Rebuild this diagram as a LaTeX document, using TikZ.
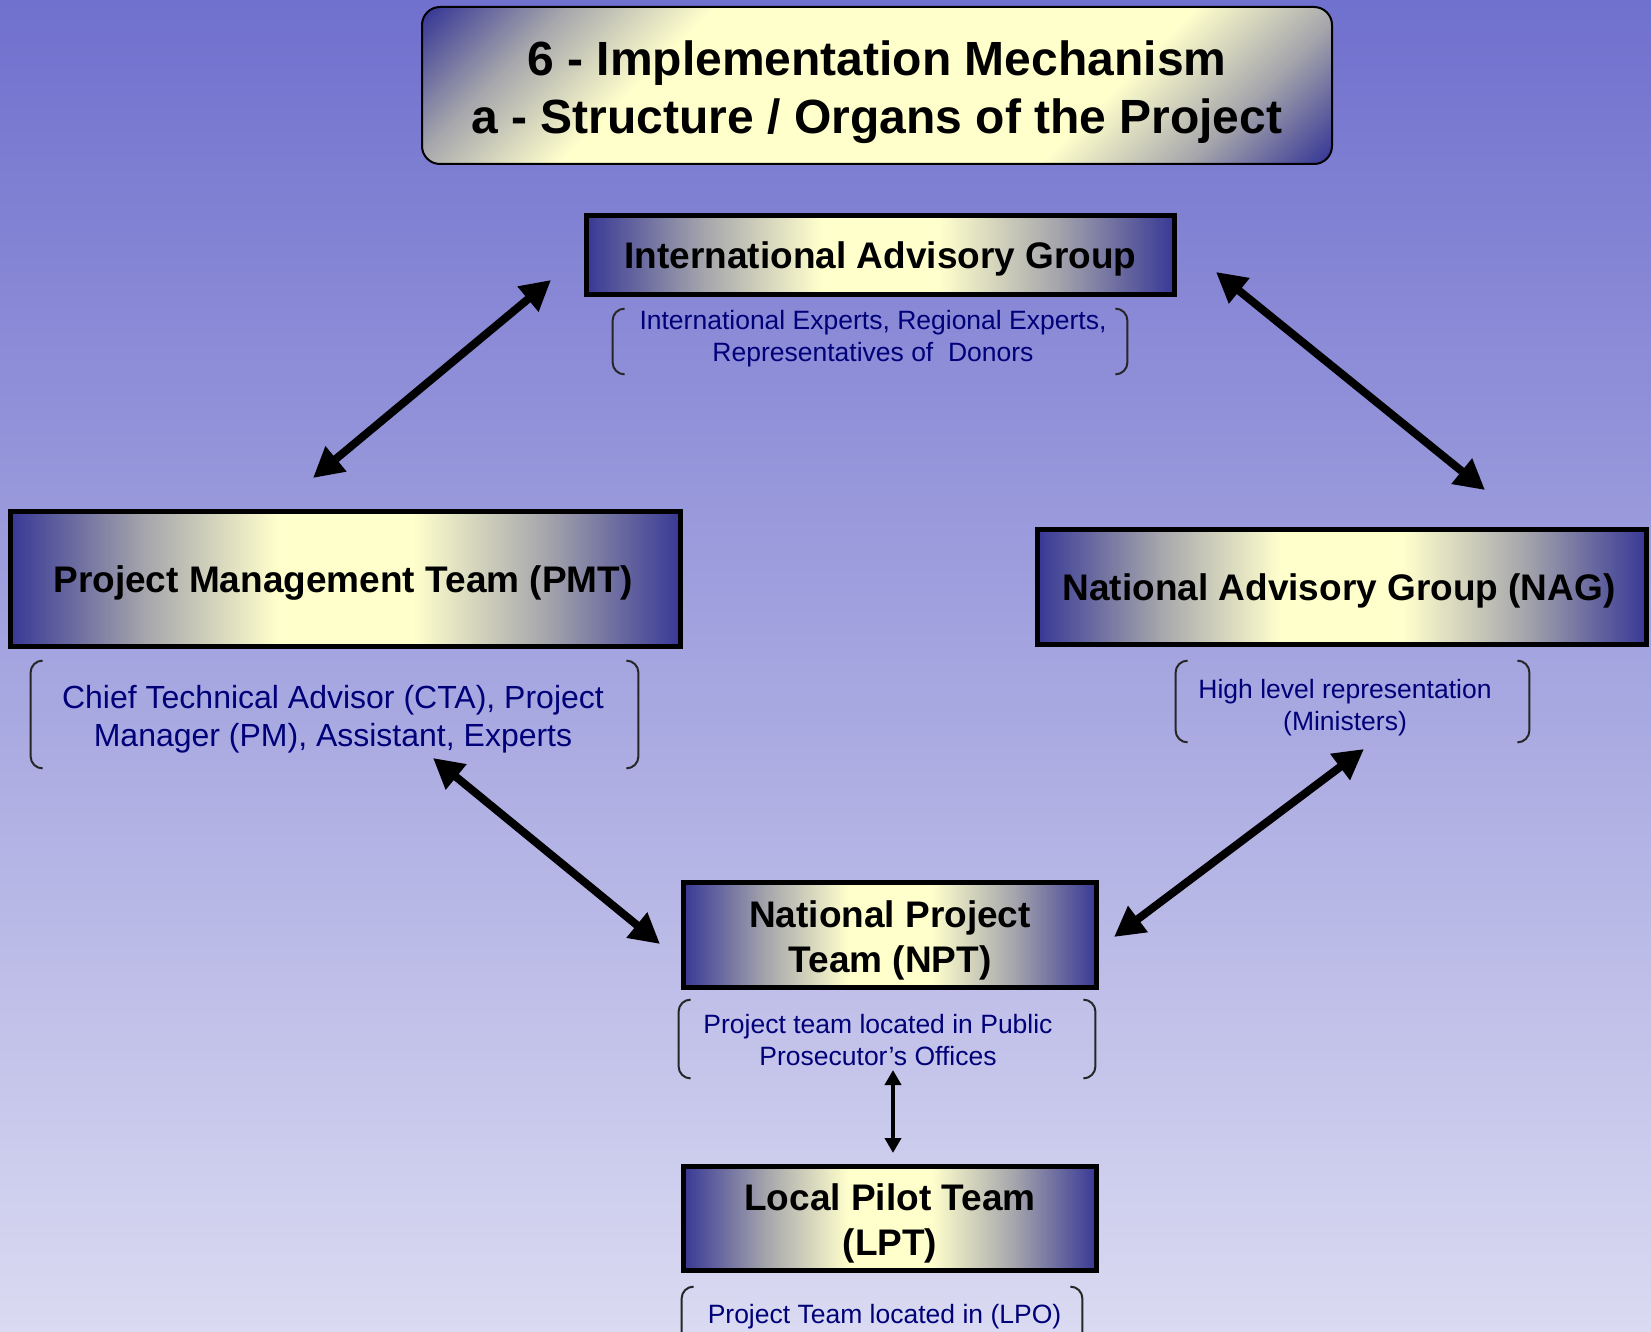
\documentclass[tikz,border=0pt]{standalone}
\usepackage{fontspec}
\setmainfont{Liberation Sans}
\usetikzlibrary{arrows.meta}
\definecolor{bgtop}{RGB}{112,112,206}
\definecolor{bgbot}{RGB}{218,218,242}
\definecolor{bdark}{RGB}{56,56,150}
\definecolor{bmid}{RGB}{165,165,172}
\definecolor{byel}{RGB}{255,255,204}
\definecolor{navytext}{RGB}{0,0,120}
\pgfdeclarehorizontalshading{boxshade}{100bp}{color(0bp)=(bdark); color(25bp)=(bdark); color(35bp)=(bmid); color(45bp)=(byel); color(55bp)=(byel); color(65bp)=(bmid); color(75bp)=(bdark); color(100bp)=(bdark)}
\pgfdeclarehorizontalshading{titleshade}{100bp}{color(0bp)=(bdark); color(15bp)=(bdark); color(24bp)=(bmid); color(34bp)=(byel); color(66bp)=(byel); color(76bp)=(bmid); color(85bp)=(bdark); color(100bp)=(bdark)}
\tikzset{
 orgbox/.style={shade, shading=boxshade, draw=black, line width=2.5pt, inner sep=0pt},
 boxtext/.style={inner sep=0pt, align=center, font=\bfseries\fontsize{18.5}{22.5}\selectfont, text=black},
 titlebox/.style={shade, shading=titleshade, shading angle=-45, draw=black, line width=1pt, rounded corners=9pt, inner sep=0pt},
 titletext/.style={inner sep=0pt, align=center, font=\bfseries\fontsize{24}{29}\selectfont, text=black},
 subtext/.style={text=navytext, align=center, font=\fontsize{13.25}{16}\selectfont, inner sep=0pt},
 bigsub/.style={text=navytext, align=center, font=\fontsize{16}{19}\selectfont, inner sep=0pt},
 brkframe/.style={inner sep=0pt, draw=none},
 brk/.style={draw=black!85, line width=1pt, rounded corners=6pt},
 bigarrow/.style={line width=4pt, {Triangle[length=15pt,width=15.5pt]}-{Triangle[length=15pt,width=15.5pt]}},
 smallarrow/.style={line width=2pt, {Triangle[length=7.5pt,width=8pt]}-{Triangle[length=7.5pt,width=8pt]}},
}
\newcommand\orgbrackets[1]{%
 \draw[brk] ([xshift=6pt]#1.north west) -- (#1.north west) -- (#1.south west) -- ([xshift=6pt]#1.south west);
 \draw[brk] ([xshift=-6pt]#1.north east) -- (#1.north east) -- (#1.south east) -- ([xshift=-6pt]#1.south east);}
\begin{document}
\begin{tikzpicture}[x=0.5pt,y=-0.5pt]
\useasboundingbox (0,0) rectangle (1651,1332);
\clip (0,0) rectangle (1651,1332);
\shade[top color=bgtop, bottom color=bgbot] (0,0) rectangle (1651,1332);

\node[titlebox, minimum width=455pt, minimum height=78.5pt] (title) at (877,85.5) {};
\node[titletext] (titlet) at (877,92) {6 - Implementation Mechanism\\a - Structure / Organs of the Project};

\node[orgbox, minimum width=294pt, minimum height=39.5pt] (iag) at (880.5,255) {};
\node[boxtext] (iagl) at (880.5,259) {International Advisory Group};
\node[brkframe, minimum width=257pt, minimum height=32.5pt] (iagf) at (870,341.5) {};
\node[subtext] (iagt) at (873,339) {International Experts, Regional Experts,\\Representatives of~ Donors};
\orgbrackets{iagf}

\node[orgbox, minimum width=335pt, minimum height=67.5pt] (pmt) at (345.5,579) {};
\node[boxtext] (pmtl) at (343,583) {Project Management Team (PMT)};
\node[brkframe, minimum width=303.5pt, minimum height=53.5pt] (pmtf) at (334.5,714.5) {};
\node[bigsub] (pmtt) at (333,719) {Chief Technical Advisor (CTA), Project\\Manager (PM), Assistant, Experts};
\orgbrackets{pmtf}

\node[orgbox, minimum width=304.5pt, minimum height=57.5pt] (nag) at (1342,587) {};
\node[boxtext] (nagl) at (1339,591) {National Advisory Group (NAG)};
\node[brkframe, minimum width=176.5pt, minimum height=40.5pt] (nagf) at (1352.5,701.5) {};
\node[subtext] (nagt) at (1345,707.5) {High level representation\\(Ministers)};
\orgbrackets{nagf}

\node[orgbox, minimum width=206.5pt, minimum height=52.5pt] (npt) at (890,935) {};
\node[boxtext] (nptl) at (890,940) {National Project\\Team (NPT)};
\node[brkframe, minimum width=208pt, minimum height=39pt] (nptf) at (887,1039) {};
\node[subtext] (nptt) at (878,1040) {Project team located in Public\\Prosecutor’s Offices};
\orgbrackets{nptf}

\node[orgbox, minimum width=206.5pt, minimum height=52pt] (lpt) at (890,1218.5) {};
\node[boxtext] (lptl) at (890,1223.5) {Local Pilot Team\\(LPT)};
\node[brkframe, minimum width=200pt, minimum height=40pt] (lptf) at (882,1327) {};
\node[subtext] (lptt) at (884.5,1317) {Project Team located in (LPO)};
\orgbrackets{lptf}

\coordinate (a1s) at (551,280); \coordinate (a1e) at (313,478);
\coordinate (a2s) at (1216,272); \coordinate (a2e) at (1485,490);
\coordinate (a3s) at (433,758); \coordinate (a3e) at (660,944);
\coordinate (a4s) at (1364,749); \coordinate (a4e) at (1114,937);
\coordinate (a5s) at (893,1070); \coordinate (a5e) at (893,1153);
\draw[bigarrow] (a1s) -- (a1e);
\draw[bigarrow] (a2s) -- (a2e);
\draw[bigarrow] (a3s) -- (a3e);
\draw[bigarrow] (a4s) -- (a4e);
\draw[smallarrow] (a5s) -- (a5e);
\end{tikzpicture}
\end{document}
